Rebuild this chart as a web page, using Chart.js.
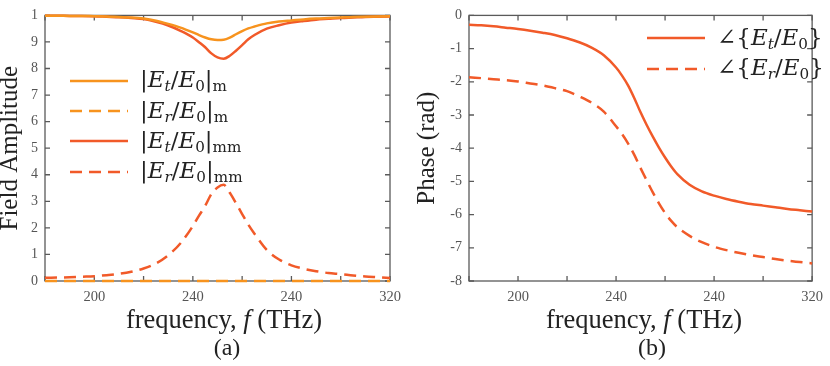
<!DOCTYPE html>
<html lang="en">
<head>
<meta charset="UTF-8">
<title>Field Amplitude and Phase</title>
<script src="https://cdn.jsdelivr.net/npm/chart.js"></script>
<style>
  body { margin: 0; width: 830px; height: 366px; overflow: hidden; background: #fff; position: relative;
         font-family: 'Liberation Serif', 'DejaVu Serif', serif; color: #222; }
  .panel { position: absolute; top: 0; width: 415px; height: 366px; }
  .xtitle { position: absolute; width: 400px; text-align: center; font-size: 26.5px; line-height: 30px; }
  .caption { position: absolute; width: 100px; text-align: center; font-size: 24px; line-height: 28px; }
  .legend { position: absolute; }
  .legend .row { display: flex; align-items: center; height: 30.3px; }
  .legend .lab { margin-left: 12px; font-family: 'DejaVu Serif', serif; font-size: 23px; line-height: 30px;
                 position: relative; top: -1.5px; white-space: nowrap; }
  .legend sub { font-size: 66%; vertical-align: -0.24em; line-height: 0; }
</style>
</head>
<body>
  <div class="panel" style="left:0"><canvas id="ampChart" width="415" height="366"></canvas></div>
  <div class="panel" style="left:415px"><canvas id="phaseChart" width="415" height="366"></canvas></div>

  <div class="xtitle" style="left:24px; top:304px">frequency, <i>f</i> (THz)</div>
  <div class="xtitle" style="left:444px; top:304px">frequency, <i>f</i> (THz)</div>
  <div class="caption" style="left:177px; top:333px">(a)</div>
  <div class="caption" style="left:602px; top:333px">(b)</div>

  <div class="legend" id="ampLegend" style="left:70px; top:65.7px"></div>
  <div class="legend" id="phaseLegend" style="left:647px; top:23.3px"></div>

<script>
// frequency samples (THz)
const freqs = [180, 185, 190, 195, 200, 205, 210, 215, 220, 225, 230, 235, 240, 242.5, 245, 247.5,
  250, 252.5, 255, 257.5, 260, 262.5, 265, 270, 275, 280, 285, 290, 295, 300, 305, 310, 315, 320];

// (a) field amplitudes
const ampEtM = [0.999, 0.999, 0.998, 0.998, 0.997, 0.996, 0.994, 0.992, 0.988, 0.980, 0.968, 0.954, 0.936, 0.926, 0.917, 0.910,
  0.907, 0.908, 0.916, 0.929, 0.941, 0.951, 0.958, 0.970, 0.977, 0.981, 0.985, 0.988, 0.990, 0.992, 0.994, 0.995, 0.996, 0.997];
const ampErM = [0, 0, 0, 0, 0, 0, 0, 0, 0, 0, 0, 0, 0, 0, 0, 0,
  0, 0, 0, 0, 0, 0, 0, 0, 0, 0, 0, 0, 0, 0, 0, 0, 0, 0];
const ampEtMM = [0.999, 0.999, 0.998, 0.998, 0.997, 0.995, 0.993, 0.990, 0.986, 0.976, 0.962, 0.942, 0.917, 0.899, 0.880, 0.857,
  0.842, 0.837, 0.848, 0.867, 0.888, 0.910, 0.926, 0.950, 0.963, 0.973, 0.979, 0.984, 0.987, 0.990, 0.992, 0.994, 0.995, 0.996];
const ampErMM = [0.012, 0.013, 0.014, 0.016, 0.018, 0.022, 0.027, 0.035, 0.047, 0.066, 0.097, 0.142, 0.207, 0.246, 0.283, 0.327,
  0.352, 0.362, 0.332, 0.293, 0.252, 0.212, 0.178, 0.117, 0.081, 0.059, 0.046, 0.037, 0.030, 0.026, 0.021, 0.017, 0.014, 0.011];

// (b) phases (rad)
const phaseEt = [-0.28, -0.30, -0.33, -0.37, -0.41, -0.46, -0.52, -0.59, -0.69, -0.81, -0.97, -1.20, -1.57, -1.82, -2.12, -2.50,
  -2.92, -3.30, -3.65, -3.98, -4.28, -4.55, -4.78, -5.10, -5.30, -5.43, -5.53, -5.61, -5.68, -5.73, -5.78, -5.83, -5.87, -5.91];
const phaseEr = [-1.86, -1.89, -1.92, -1.95, -1.99, -2.05, -2.11, -2.19, -2.28, -2.44, -2.63, -2.90, -3.34, -3.58, -3.87, -4.21,
  -4.60, -4.97, -5.33, -5.66, -5.95, -6.19, -6.38, -6.64, -6.83, -6.97, -7.07, -7.15, -7.22, -7.28, -7.34, -7.39, -7.43, -7.47];

// ticks and their labels, as printed in the figure
const freqTicks = [180, 200, 220, 240, 260, 280, 300, 320];
const freqTickText = ['', '200', '', '240', '', '240', '', '320'];
const ampTicks = [0, 0.1, 0.2, 0.3, 0.4, 0.5, 0.6, 0.7, 0.8, 0.9, 1];
const ampTickText = ['0', '1', '2', '3', '4', '5', '6', '7', '8', '9', '1'];
const phaseTicks = [-8, -7, -6, -5, -4, -3, -2, -1, 0];
const phaseTickText = ['-8', '-7', '-6', '-5', '-4', '-3', '-2', '-1', '0'];

// legend labels
const ampLegendText = [
  '|<i>E</i><sub><i>t</i></sub>/<i>E</i><sub>0</sub>|<sub>m</sub>',
  '|<i>E</i><sub><i>r</i></sub>/<i>E</i><sub>0</sub>|<sub>m</sub>',
  '|<i>E</i><sub><i>t</i></sub>/<i>E</i><sub>0</sub>|<sub>mm</sub>',
  '|<i>E</i><sub><i>r</i></sub>/<i>E</i><sub>0</sub>|<sub>mm</sub>'
];
const phaseLegendText = [
  '\u2220{<i>E</i><sub><i>t</i></sub>/<i>E</i><sub>0</sub>}',
  '\u2220{<i>E</i><sub><i>r</i></sub>/<i>E</i><sub>0</sub>}'
];

const ORANGE = '#F7931E';
const RED = '#F15A29';
const DASH = [12, 7];
const serif = 'Liberation Serif';

const pts = ys => ys.map((y, i) => ({ x: freqs[i], y: y }));

function line(label, ys, color, dashed) {
  return {
    label: label, data: pts(ys), borderColor: color, borderWidth: 2.5,
    borderDash: dashed ? DASH : [], pointRadius: 0, cubicInterpolationMode: 'monotone',
    fill: false, clip: 4
  };
}

// box frame with inward ticks on all four sides
const frameTicks = {
  id: 'frameTicks',
  beforeDatasetsDraw(chart) {
    const { ctx, chartArea: a, scales: { x, y } } = chart;
    const len = 5;
    ctx.save();
    ctx.strokeStyle = '#5a5a5a';
    ctx.lineWidth = 1.3;
    ctx.strokeRect(a.left, a.top, a.right - a.left, a.bottom - a.top);
    ctx.beginPath();
    x.ticks.forEach(t => {
      const px = x.getPixelForValue(t.value);
      ctx.moveTo(px, a.bottom); ctx.lineTo(px, a.bottom - len);
      ctx.moveTo(px, a.top); ctx.lineTo(px, a.top + len);
    });
    y.ticks.forEach(t => {
      const py = y.getPixelForValue(t.value);
      ctx.moveTo(a.left, py); ctx.lineTo(a.left + len, py);
      ctx.moveTo(a.right, py); ctx.lineTo(a.right - len, py);
    });
    ctx.stroke();
    ctx.restore();
  }
};

function axes(yMin, yMax, yTicks, yText, yTitle, yWidth, titleLH) {
  return {
    x: {
      type: 'linear', min: 180, max: 320,
      afterBuildTicks: s => { s.ticks = freqTicks.map(v => ({ value: v })); },
      afterFit: s => { s.height = 85; },
      grid: { display: false, drawTicks: false }, border: { display: false },
      ticks: { autoSkip: false, maxRotation: 0, padding: 7, color: '#555',
               font: { family: serif, size: 14.5 }, callback: (v, i) => freqTickText[i] }
    },
    y: {
      type: 'linear', min: yMin, max: yMax,
      afterBuildTicks: s => { s.ticks = yTicks.map(v => ({ value: v })); },
      afterFit: s => { s.width = yWidth; },
      grid: { display: false, drawTicks: false }, border: { display: false },
      ticks: { autoSkip: false, padding: 7, color: '#555',
               font: { family: serif, size: 14 }, callback: (v, i) => yText[i] },
      title: { display: true, text: yTitle, color: '#222', padding: 0,
               font: { family: serif, size: 25, lineHeight: titleLH } }
    }
  };
}

new Chart(document.getElementById('ampChart'), {
  type: 'line',
  data: {
    datasets: [
      line('|Et/E0|m', ampEtM, ORANGE, false),
      line('|Er/E0|m', ampErM, ORANGE, true),
      line('|Et/E0|mm', ampEtMM, RED, false),
      line('|Er/E0|mm', ampErMM, RED, true)
    ]
  },
  options: {
    responsive: false, animation: false,
    layout: { padding: { top: 11, right: 25, left: 0, bottom: 0 } },
    plugins: { legend: { display: false }, tooltip: { enabled: false } },
    scales: axes(0, 1, ampTicks, ampTickText, 'Field Amplitude', 45, 0.85)
  },
  plugins: [frameTicks]
});

new Chart(document.getElementById('phaseChart'), {
  type: 'line',
  data: {
    datasets: [
      line('\u2220{Et/E0}', phaseEt, RED, false),
      line('\u2220{Er/E0}', phaseEr, RED, true)
    ]
  },
  options: {
    responsive: false, animation: false,
    layout: { padding: { top: 10, right: 16, left: 0, bottom: 0 } },
    plugins: { legend: { display: false }, tooltip: { enabled: false } },
    scales: axes(-8, 0, phaseTicks, phaseTickText, 'Phase (rad)', 54, 1.0)
  },
  plugins: [frameTicks]
});

// html legends (math-style labels need sub/italics)
function buildLegend(el, datasets, texts) {
  el.innerHTML = datasets.map((d, i) => {
    const dash = d.borderDash.length ? ` stroke-dasharray="${d.borderDash.join(' ')}"` : '';
    return `<div class="row"><svg width="58" height="30"><line x1="0" y1="15" x2="58" y2="15" stroke="${d.borderColor}" stroke-width="2.5"${dash}/></svg><span class="lab">${texts[i]}</span></div>`;
  }).join('');
}
buildLegend(document.getElementById('ampLegend'), Chart.getChart('ampChart').data.datasets, ampLegendText);
buildLegend(document.getElementById('phaseLegend'), Chart.getChart('phaseChart').data.datasets, phaseLegendText);
</script>
</body>
</html>
